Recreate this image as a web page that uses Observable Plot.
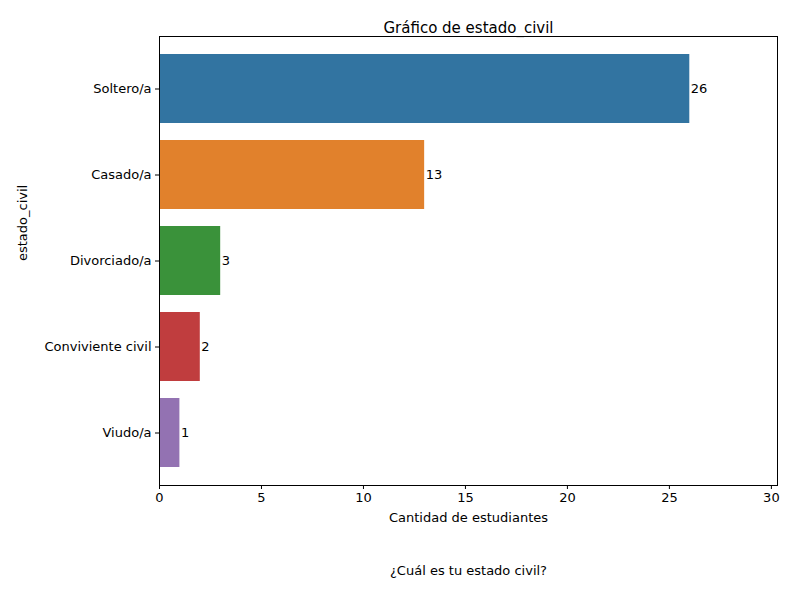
<!DOCTYPE html>
<html><head><meta charset="utf-8">
<script src="https://cdn.jsdelivr.net/npm/d3@7"></script>
<script src="https://cdn.jsdelivr.net/npm/@observablehq/plot@0.6"></script>
<style>body{margin:0;background:#fff}</style>
</head><body><div id="chart"></div>
<script>
const categorias = ['Soltero/a', 'Casado/a', 'Divorciado/a', 'Conviviente civil', 'Viudo/a']
const cantidades = [26, 13, 3, 2, 1]
const colores = ['#3274a1', '#e1812c', '#3a923a', '#c03d3e', '#9372b2']
const xTicks = [0, 5, 10, 15, 20, 25, 30]

const data = categorias.map((c, i) => ({estado: c, n: cantidades[i], color: colores[i]}))

const chart = Plot.plot({
  width: 800, height: 600,
  marginLeft: 159, marginRight: 23, marginTop: 36, marginBottom: 115,
  style: {fontFamily: 'DejaVu Sans', fontSize: '13px', color: 'black'},
  x: {domain: [0, 30.3]},
  y: {domain: categorias, padding: 0.2},
  marks: [
    Plot.barX(data, {x: 'n', y: 'estado', fill: 'color'}),
    Plot.text(data, {x: 'n', y: 'estado', text: d => String(d.n), textAnchor: 'start', dx: 1, fill: 'black'}),
    Plot.frame({stroke: 'black'}),
    Plot.axisX({ticks: xTicks, tickSize: 4, tickPadding: 3, label: null}),
    Plot.axisY({tickSize: 4, tickPadding: 4, label: null}),
    Plot.text(['Gráfico de estado_civil'], {frameAnchor: 'top', dy: -14, fontSize: 15}),
    Plot.text(['Cantidad de estudiantes'], {frameAnchor: 'bottom', dy: 36}),
    Plot.text(['¿Cuál es tu estado civil?'], {frameAnchor: 'bottom', dy: 89}),
    Plot.text(['estado_civil'], {frameAnchor: 'left', dx: -137, rotate: -90})
  ]
})
document.getElementById('chart').append(chart)
</script></body></html>
